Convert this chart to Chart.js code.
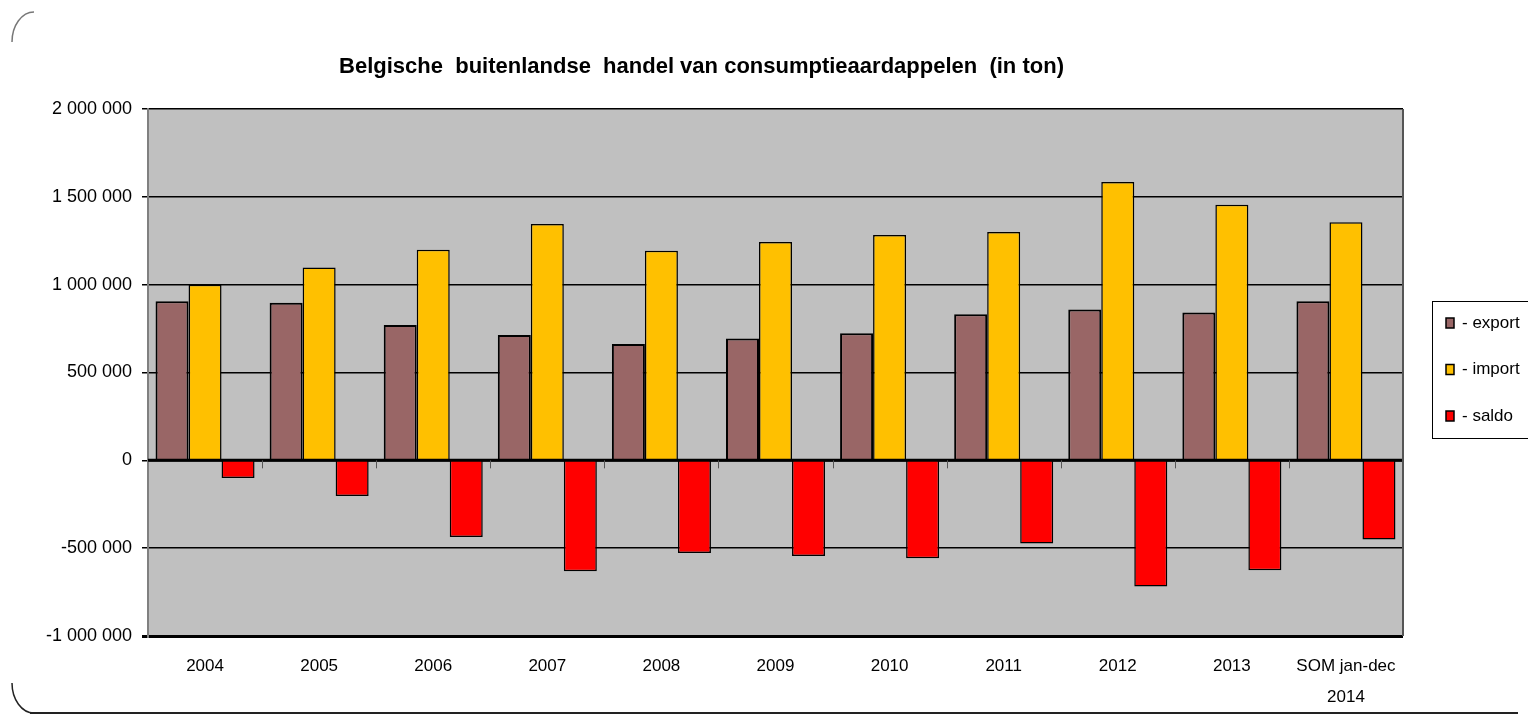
<!DOCTYPE html>
<html>
<head>
<meta charset="utf-8">
<title>Belgische buitenlandse handel van consumptieaardappelen</title>
<script src="https://cdn.jsdelivr.net/npm/chart.js@4/dist/chart.umd.min.js"></script>
<style>
  html, body { margin: 0; padding: 0; background: #ffffff; overflow: hidden; }
  #wrap { width: 1528px; height: 715px; position: relative; }
</style>
</head>
<body>
<div id="wrap"><canvas id="tradeChart"></canvas></div>
<script>
const categories = ["2004", "2005", "2006", "2007", "2008", "2009", "2010", "2011", "2012", "2013", ["SOM jan-dec", "2014"]];
const exportValues = [905000, 897000, 770000, 713000, 662000, 693000, 723000, 831000, 859000, 842000, 905000];
const importValues = [1000000, 1098000, 1199000, 1345000, 1193000, 1243000, 1283000, 1300000, 1584000, 1455000, 1356000];
const saldoValues = [-100000, -203000, -437000, -632000, -527000, -545000, -558000, -474000, -718000, -625000, -451000];
const yTicks = [-1000000, -500000, 0, 500000, 1000000, 1500000, 2000000];

const FONT = "'Liberation Sans', Arial, sans-serif";

// "2 000 000" style numbers
function formatTon(v) {
  const s = String(Math.abs(v)).replace(/\B(?=(\d{3})+(?!\d))/g, " ");
  return (v < 0 ? "-" : "") + s;
}

// grey plot background
const plotBackground = {
  id: "plotBackground",
  beforeDraw(chart) {
    const { ctx, chartArea: a } = chart;
    ctx.save();
    ctx.fillStyle = "#C0C0C0";
    ctx.fillRect(a.left, a.top, a.right - a.left, a.bottom - a.top);
    ctx.restore();
  },
};

// zero line with the category ticks under it, right edge of the plot
const zeroAxis = {
  id: "zeroAxis",
  afterDatasetsDraw(chart) {
    const { ctx, chartArea: a, scales } = chart;
    const y0 = scales.y.getPixelForValue(0);
    ctx.save();
    ctx.strokeStyle = "#000";
    ctx.lineWidth = 3;
    ctx.beginPath();
    ctx.moveTo(a.left, y0);
    ctx.lineTo(a.right, y0);
    ctx.stroke();

    const n = chart.data.labels.length;
    const step = (a.right - a.left) / n;
    ctx.strokeStyle = "#555";
    ctx.lineWidth = 1;
    for (let i = 1; i < n; i++) {
      const x = Math.round(a.left + i * step) + 0.5;
      ctx.beginPath();
      ctx.moveTo(x, y0);
      ctx.lineTo(x, y0 + 8);
      ctx.stroke();
    }

    ctx.strokeStyle = "#555";
    ctx.lineWidth = 2;
    ctx.beginPath();
    ctx.moveTo(a.right, a.top);
    ctx.lineTo(a.right, a.bottom);
    ctx.stroke();
    ctx.restore();
  },
};

// legend box on the right + the frame of the chart sheet
const boxLegend = {
  id: "boxLegend",
  afterDraw(chart) {
    const { ctx, chartArea: a } = chart;
    const left = a.right + 29;
    const top = 301;
    const rowGap = 46.5;

    ctx.save();
    ctx.strokeStyle = "#000";
    ctx.lineWidth = 1;
    ctx.strokeRect(left + 0.5, top + 0.5, chart.width - left + 10, 137);

    ctx.font = "17px " + FONT;
    ctx.textBaseline = "middle";
    ctx.textAlign = "left";
    chart.data.datasets.forEach((ds, i) => {
      const cy = top + 22 + i * rowGap;
      ctx.fillStyle = ds.backgroundColor;
      ctx.fillRect(left + 14, cy - 5, 8, 10);
      ctx.lineWidth = 1.5;
      ctx.strokeStyle = "#000";
      ctx.strokeRect(left + 14, cy - 5, 8, 10);
      ctx.fillStyle = "#000";
      ctx.fillText(ds.label, left + 30, cy);
    });

    // frame corners and bottom edge
    ctx.lineWidth = 1.5;
    ctx.strokeStyle = "#777";
    ctx.beginPath();
    ctx.ellipse(34, 42, 22, 30, 0, Math.PI, 1.5 * Math.PI);
    ctx.stroke();
    ctx.strokeStyle = "#222";
    ctx.beginPath();
    ctx.ellipse(34, 683, 22, 30, 0, 0.5 * Math.PI, Math.PI);
    ctx.stroke();
    ctx.lineWidth = 2;
    ctx.beginPath();
    ctx.moveTo(30, 713);
    ctx.lineTo(1518, 713);
    ctx.stroke();
    ctx.restore();
  },
};

const ctx = document.getElementById("tradeChart").getContext("2d");

new Chart(ctx, {
  type: "bar",
  data: {
    labels: categories,
    datasets: [
      {
        label: "- export",
        data: exportValues,
        backgroundColor: "#996666",
        borderColor: "#000",
        borderWidth: 2,
      },
      {
        label: "- import",
        data: importValues,
        backgroundColor: "#FFC000",
        borderColor: "#000",
        borderWidth: 1.5,
      },
      {
        label: "- saldo",
        data: saldoValues,
        backgroundColor: "#FF0000",
        borderColor: "#000",
        borderWidth: 1.5,
      },
    ],
  },
  options: {
    responsive: true,
    maintainAspectRatio: false,
    animation: false,
    layout: { padding: { left: 0, right: 125, top: 0, bottom: 0 } },
    datasets: {
      bar: { categoryPercentage: 0.868, barPercentage: 1.0 },
    },
    scales: {
      x: {
        grid: { display: false, drawTicks: false },
        border: { display: false },
        ticks: {
          autoSkip: false,
          maxRotation: 0,
          padding: 15,
          color: "#000",
          font: { family: FONT, size: 17, lineHeight: 1.8 },
        },
        afterFit(scale) {
          scale.height = 79;
        },
      },
      y: {
        min: -1000000,
        max: 2000000,
        afterBuildTicks(scale) {
          scale.ticks = yTicks.map((v) => ({ value: v }));
        },
        grid: {
          color: "#000",
          lineWidth: (c) => (c.tick && c.tick.value === -1000000 ? 3 : 1.5),
          tickLength: 6,
        },
        border: { display: true, color: "#808080", width: 2 },
        ticks: {
          padding: 10,
          color: "#000",
          font: { family: FONT, size: 18 },
          callback: (v) => formatTon(v),
        },
        afterFit(scale) {
          scale.width = 148;
        },
      },
    },
    plugins: {
      legend: { display: false },
      tooltip: { enabled: false },
      title: {
        display: true,
        text: "Belgische  buitenlandse  handel van consumptieaardappelen  (in ton)",
        color: "#000",
        font: { family: FONT, size: 22, weight: "bold", lineHeight: 1.2 },
        padding: { top: 54, bottom: 28.6 },
      },
    },
  },
  plugins: [plotBackground, zeroAxis, boxLegend],
});
</script>
</body>
</html>
